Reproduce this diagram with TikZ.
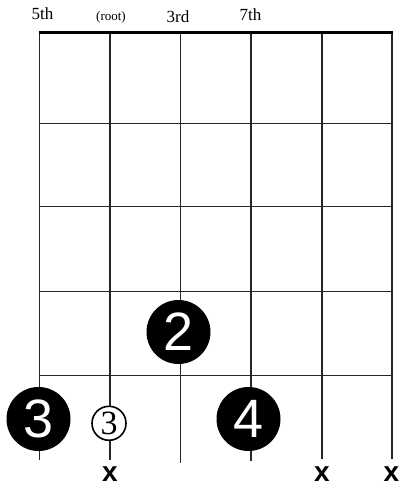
\documentclass[tikz,border=0pt]{standalone}
\usepackage{fontspec}
\setmainfont{Liberation Serif}
\newfontfamily\numfont{Liberation Sans}
\tikzset{
  stringline/.style={line width=1.4pt, black!85},
  fretline/.style={line width=1.4pt, black!85},
  nutline/.style={line width=2.6pt, black},
  fingerdot/.style={circle, fill=black, minimum size=64pt, inner sep=0pt, text=white, font=\numfont\fontsize{54}{54}\selectfont},
  opendot/.style={circle, draw=black, line width=1.6pt, fill=white, minimum size=34pt, inner sep=0pt, font=\fontsize{34}{34}\selectfont},
  mutemark/.style={inner sep=0pt, font=\numfont\bfseries\fontsize{28}{28}\selectfont},
  toplabel/.style={anchor=base, inner sep=0pt, font=\fontsize{17}{17}\selectfont},
  smalllabel/.style={anchor=base, inner sep=0pt, font=\fontsize{13}{13}\selectfont}
}
\begin{document}
\begin{tikzpicture}[x=1pt, y=-1pt]
\useasboundingbox (0,0) rectangle (401,487);
% strings
\coordinate (s1t) at (39.5,32); \coordinate (s1b) at (39.5,460);
\coordinate (s2t) at (110,32); \coordinate (s2b) at (110,460);
\coordinate (s3t) at (180.7,32); \coordinate (s3b) at (180.7,463);
\coordinate (s4t) at (251,32); \coordinate (s4b) at (251,461);
\coordinate (s5t) at (322,32); \coordinate (s5b) at (322,459);
\coordinate (s6t) at (392,32); \coordinate (s6b) at (392,459);
\foreach \i in {1,...,6} {\draw[stringline] (s\i t) -- (s\i b);}
% frets
\foreach \y [count=\k] in {123.3,206.7,291.7,375.7} {
  \coordinate (f\k l) at (39.5,\y); \coordinate (f\k r) at (392,\y);
  \draw[fretline] (f\k l) -- (f\k r);
}
% nut
\coordinate (nutl) at (38.5,32.5); \coordinate (nutr) at (393,32.5);
\draw[nutline] (nutl) -- (nutr);
% labels
\node[toplabel] (l5) at (42.5,19.5) {5th};
\node[smalllabel] (lroot) at (111,20.5) {(root)};
\node[toplabel] (l3) at (178,22.5) {3rd};
\node[toplabel] (l7) at (250.5,21) {7th};
% finger dots
\node[fingerdot] (d2) at (178.5,332) {2};
\node[fingerdot] (d3) at (38.5,419) {3};
\node[fingerdot] (d4) at (248.5,419) {4};
\node[opendot] (o3) at (109,423.3) {3};
% mutes
\node[mutemark] (x2) at (110,474.5) {x};
\node[mutemark] (x5) at (322,474.5) {x};
\node[mutemark] (x6) at (391.5,474.5) {x};
\end{tikzpicture}
\end{document}
